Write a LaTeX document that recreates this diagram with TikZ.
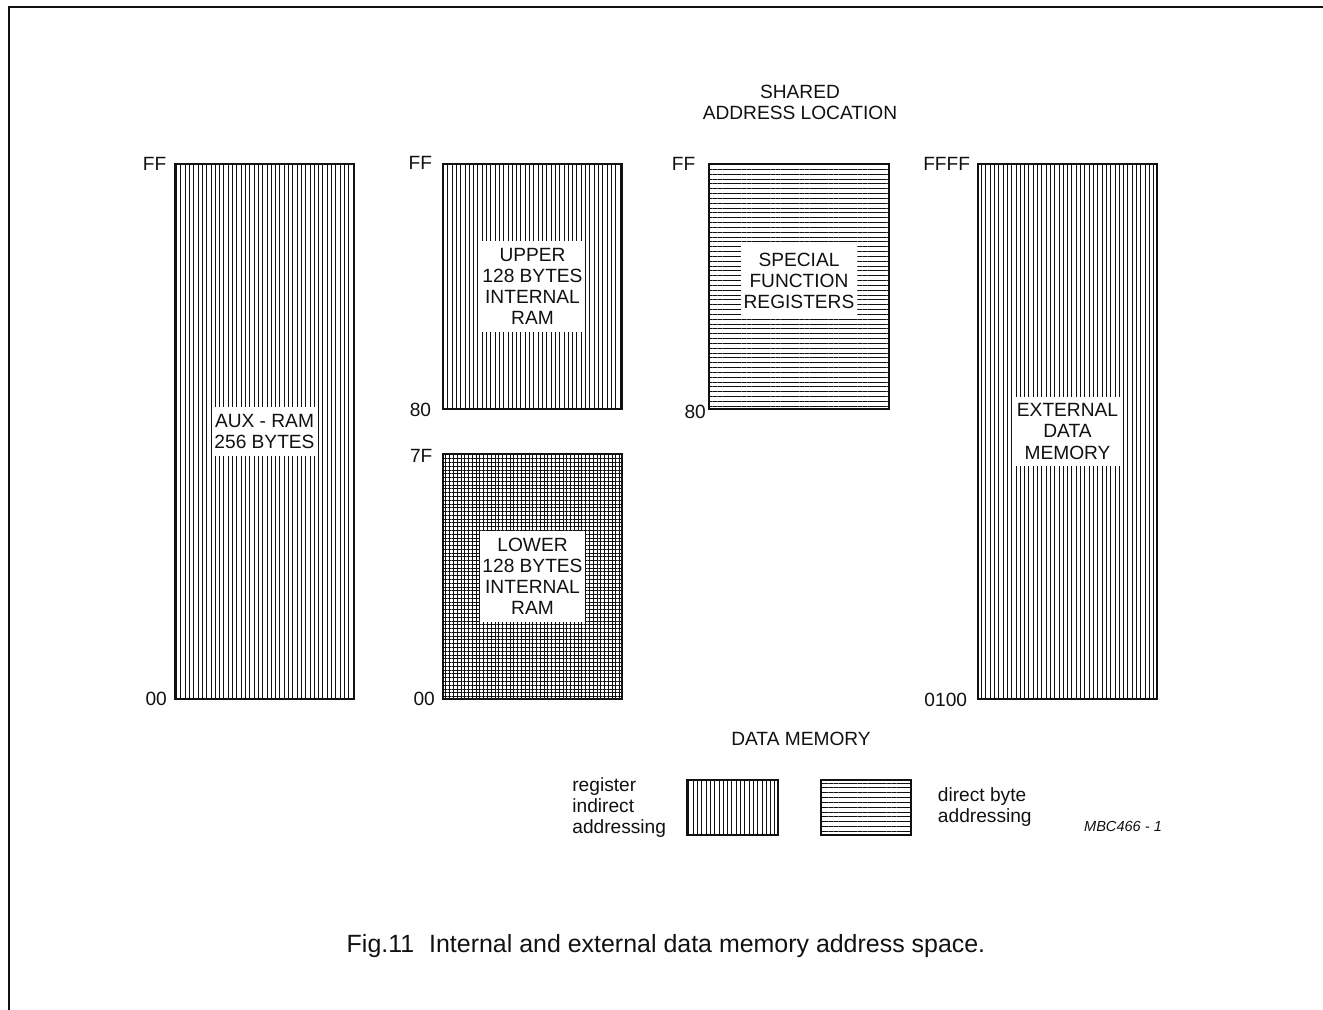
\documentclass[tikz,border=0pt]{standalone}
\usepackage{fontspec}
\setmainfont{Liberation Sans}
\setsansfont{Liberation Sans}
\usetikzlibrary{patterns.meta,positioning}
\definecolor{ink}{HTML}{111111}
\newcommand\memfont{\fontsize{10.9}{12.0}\selectfont}
\tikzset{
  every node/.style={font=\sffamily\memfont, text=ink},
  frame/.style={draw=ink, line width=0.75pt},
  memblock/.style={draw=ink, line width=0.7pt, minimum width=3.58cm, inner sep=0pt},
  vhatch/.style={memblock, pattern={Lines[angle=90, distance=2.45pt, line width=0.4pt]}, pattern color=ink},
  hhatch/.style={memblock, pattern={Lines[angle=0, distance=2.75pt, line width=0.4pt]}, pattern color=ink},
  xhatch/.style={memblock, pattern={Hatch[angle=0, distance=2.15pt, line width=0.35pt]}, pattern color=ink},
  inlbl/.style={fill=white, align=center, inner xsep=1.5pt, inner ysep=4pt},
  addr/.style={inner sep=0pt},
  lbl/.style={align=center},
  note/.style={align=left, inner sep=0pt},
}

\begin{document}
\begin{tikzpicture}[x=0.02cm, y=-0.02cm]
\useasboundingbox (0,0) rectangle (1323,1010);

% --- frame (open at right and bottom) ---
\coordinate (frameTR) at (1323,7);
\coordinate (frameTL) at (9,7);
\coordinate (frameBL) at (9,1010);
\draw[frame] (frameTR) -- (frameTL) -- (frameBL);

% --- Column 1: auxiliary RAM ---
\node[vhatch, minimum height=10.70cm] (auxram) at (264.5,431.5) {};
\node[inlbl] (auxtxt) at (auxram.center) {AUX - RAM\\256 BYTES};
\node[addr, left=0.16cm of auxram.north west] (auxff) {FF};
\node[addr, left=0.15cm of auxram.south west] (aux00) {00};

% --- Column 2: internal RAM, upper and lower halves ---
\node[vhatch, minimum height=4.90cm] (upper) at (532.5,286.5) {};
\node[inlbl] (uppertxt) at (upper.center) {UPPER\\128 BYTES\\INTERNAL\\RAM};
\node[addr, left=0.2cm of upper.north west] (upperff) {FF};
\node[addr, left=0.22cm of upper.south west] (upper80) {80};

\node[xhatch, minimum height=4.90cm] (lower) at (532.5,576.5) {};
\node[inlbl] (lowertxt) at (lower.center) {LOWER\\128 BYTES\\INTERNAL\\RAM};
\node[addr, left=0.2cm of lower.north west, yshift=-0.05cm] (lower7f) {7F};
\node[addr, left=0.15cm of lower.south west] (lower00) {00};

% --- Column 3: special function registers ---
\node[lbl] (shared) at (800,102) {SHARED\\ADDRESS LOCATION};
\node[hhatch, minimum width=3.60cm, minimum height=4.90cm] (sfr) at (799,286.5) {};
\node[inlbl] (sfrtxt) at ([yshift=0.12cm]sfr.center) {SPECIAL\\FUNCTION\\REGISTERS};
\node[addr, left=0.26cm of sfr.north west] (sfrff) {FF};
\node[addr, left=0.05cm of sfr.south west, yshift=-0.06cm] (sfr80) {80};

% --- Column 4: external data memory ---
\node[vhatch, minimum height=10.70cm] (extmem) at (1067.5,431.5) {};
\node[inlbl] (exttxt) at (extmem.center) {EXTERNAL\\DATA\\MEMORY};
\node[addr, left=0.14cm of extmem.north west] (extffff) {FFFF};
\node[addr, left=0.2cm of extmem.south west] (ext0100) {0100};

\node[lbl] (datamem) at (801,739) {DATA MEMORY};

% --- legend ---
\node[vhatch, minimum width=1.82cm, minimum height=1.10cm] (legind) at (732.5,807.5) {};
\node[hhatch, minimum width=1.80cm, minimum height=1.10cm] (legdir) at (866,807.5) {};
\node[note, left=0.4cm of legind] (legindtxt) {register\\indirect\\addressing};
\node[note, right=0.52cm of legdir] (legdirtxt) {direct byte\\addressing};
\node[font=\sffamily\itshape\fontsize{8.3}{9}\selectfont] (figid) at (1123,826) {MBC466 - 1};

% --- caption ---
\node[font=\sffamily\fontsize{14.2}{16}\selectfont] (caption) at (666,946)
  {Fig.11\hspace{0.6em}Internal and external data memory address space.};

\end{tikzpicture}
\end{document}
